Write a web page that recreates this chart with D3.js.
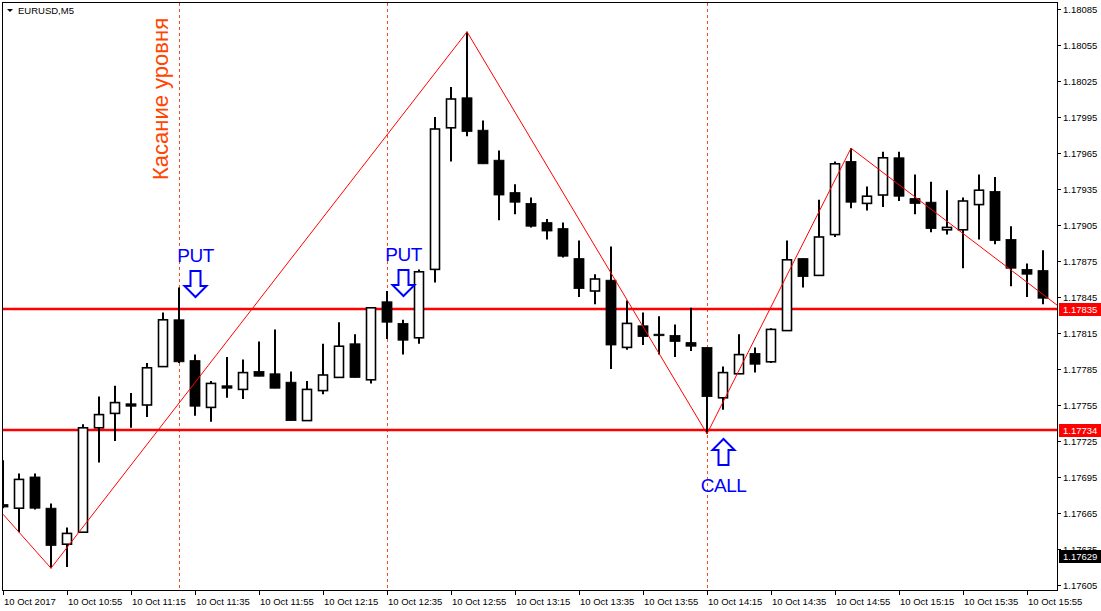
<!DOCTYPE html>
<html>
<head>
<meta charset="utf-8">
<script src="https://cdn.jsdelivr.net/npm/d3@7"></script>
<style>
body{margin:0;background:#fff}
svg{display:block;font-family:"Liberation Sans",Arial,sans-serif}
</style>
</head>
<body>
<div id="app"></div>
<script>
// EURUSD M5, 10 Oct 2017, bars from 10:35 onwards
var opens  = [1.17672,1.17669,1.17695,1.17669,1.17639,1.17649,1.17736,1.17748,1.17756,1.17755,1.17787,1.17826,1.17792,1.17753,1.17771,1.17768,1.17783,1.17781,1.17774,1.17742,1.17767,1.17778,1.17806,1.17776,1.17841,1.17823,1.17811,1.17868,1.17986,1.18011,1.17984,1.17959,1.17932,1.17923,1.17907,1.17902,1.17877,1.17850,1.17859,1.17803,1.17821,1.17814,1.17813,1.17807,1.17803,1.17761,1.17781,1.17798,1.17791,1.17817,1.17877,1.17863,1.17897,1.17958,1.17923,1.17930,1.17961,1.17927,1.17924,1.17901,1.17901,1.17922,1.17933,1.17893,1.17868,1.17867]
var highs  = [1.17709,1.17698,1.17698,1.17673,1.17653,1.17739,1.17762,1.17771,1.17765,1.17790,1.17832,1.17853,1.17797,1.17775,1.17795,1.17793,1.17808,1.17818,1.17783,1.17775,1.17806,1.17824,1.17814,1.17836,1.17850,1.17826,1.17868,1.17995,1.18020,1.18066,1.17992,1.17967,1.17939,1.17928,1.17910,1.17907,1.17892,1.17864,1.17887,1.17842,1.17832,1.17829,1.17822,1.17836,1.17803,1.17787,1.17814,1.17803,1.17819,1.17892,1.17877,1.17926,1.17958,1.17969,1.17937,1.17966,1.17966,1.17947,1.17941,1.17934,1.17928,1.17947,1.17945,1.17904,1.17873,1.17884]
var lows   = [1.17669,1.17649,1.17668,1.17619,1.17620,1.17649,1.17707,1.17725,1.17736,1.17745,1.17787,1.17790,1.17746,1.17741,1.17761,1.17760,1.17779,1.17769,1.17742,1.17742,1.17764,1.17778,1.17778,1.17773,1.17810,1.17797,1.17806,1.17857,1.17958,1.17979,1.17956,1.17909,1.17914,1.17903,1.17893,1.17878,1.17845,1.17839,1.17785,1.17801,1.17805,1.17797,1.17795,1.17800,1.17731,1.17751,1.17781,1.17782,1.17790,1.17817,1.17853,1.17863,1.17895,1.17919,1.17917,1.17920,1.17925,1.17914,1.17899,1.17897,1.17869,1.17893,1.17889,1.17854,1.17845,1.17839]
var closes = [1.17670,1.17693,1.17669,1.17638,1.17648,1.17736,1.17747,1.17757,1.17754,1.17786,1.17826,1.17791,1.17754,1.17773,1.17769,1.17782,1.17779,1.17769,1.17742,1.17768,1.17780,1.17804,1.17778,1.17836,1.17824,1.17809,1.17866,1.17985,1.18010,1.17983,1.17956,1.17930,1.17924,1.17904,1.17900,1.17879,1.17852,1.17860,1.17805,1.17823,1.17812,1.17813,1.17808,1.17804,1.17762,1.17782,1.17797,1.17789,1.17818,1.17876,1.17862,1.17895,1.17956,1.17924,1.17929,1.17961,1.17929,1.17923,1.17902,1.17903,1.17925,1.17934,1.17892,1.17869,1.17864,1.17844]

var priceTicks = ["1.18085","1.18055","1.18025","1.17995","1.17965","1.17935","1.17905","1.17875","1.17845","1.17815","1.17785","1.17755","1.17725","1.17695","1.17665","1.17635","1.17605"]
var timeLabels = ["10 Oct 2017","10 Oct 10:55","10 Oct 11:15","10 Oct 11:35","10 Oct 11:55","10 Oct 12:15","10 Oct 12:35","10 Oct 12:55","10 Oct 13:15","10 Oct 13:35","10 Oct 13:55","10 Oct 14:15","10 Oct 14:35","10 Oct 14:55","10 Oct 15:15","10 Oct 15:35","10 Oct 15:55"]
var timeLabelBars = [0,4,8,12,16,20,24,28,32,36,40,44,48,52,56,60,64]

var levels = [1.17835, 1.17734]
var lastPrice = 1.17629
var touchBars = [11, 24, 44]
var zigzagBars   = [0, 3, 29, 44, 53, 66]
var zigzagPrices = [1.17664, 1.17619, 1.18066, 1.17731, 1.17969, 1.17837]
var signalLabels = ["PUT", "PUT", "CALL"]
var signalBars   = [12, 25, 45]
var signalPrices = [1.17845, 1.17846, 1.17727]
var signalDirs   = ["down", "down", "up"]

var W = 1101, H = 611
// careful: "top" is window.top, so use other names
var pL = 3, pR = 1057, pT = 3, pB = 590

var svg = d3.select("#app").append("svg").attr("width", W).attr("height", H)

var x = d3.scaleLinear().domain([0, 65]).range([3, 1043])
var y = d3.scaleLinear().domain([1.18085, 1.17605]).range([9, 585])

svg.append("defs").append("clipPath").attr("id", "plotclip")
  .append("rect").attr("x", pL).attr("y", pT).attr("width", pR - pL).attr("height", pB - pT)

var plot = svg.append("g").attr("clip-path", "url(#plotclip)")

// vertical dashed "touch" lines
plot.selectAll(".touch").data(touchBars).enter().append("line")
  .attr("x1", d => Math.round(x(d)) + 0.5).attr("x2", d => Math.round(x(d)) + 0.5)
  .attr("y1", pT).attr("y2", pB)
  .attr("stroke", "#f0501e").attr("stroke-width", 1).attr("stroke-dasharray", "3,3")

// level lines
plot.selectAll(".level").data(levels).enter().append("line")
  .attr("x1", pL).attr("x2", pR)
  .attr("y1", d => Math.round(y(d))).attr("y2", d => Math.round(y(d)))
  .attr("stroke", "#ff0000").attr("stroke-width", 2.5)

// candles
var bars = d3.range(opens.length)
var candle = plot.selectAll(".candle").data(bars).enter().append("g")
candle.append("line")
  .attr("x1", i => Math.round(x(i))).attr("x2", i => Math.round(x(i)))
  .attr("y1", i => y(highs[i])).attr("y2", i => y(lows[i]))
  .attr("stroke", "#000").attr("stroke-width", 2)
candle.append("rect")
  .attr("x", i => Math.round(x(i)) - (closes[i] >= opens[i] ? 4.5 : 5))
  .attr("width", i => closes[i] >= opens[i] ? 9 : 10)
  .attr("y", i => y(Math.max(opens[i], closes[i])))
  .attr("height", i => Math.max(1.5, Math.abs(y(opens[i]) - y(closes[i]))))
  .attr("fill", i => closes[i] >= opens[i] ? "#fff" : "#000")
  .attr("stroke", "#000").attr("stroke-width", i => closes[i] >= opens[i] ? 1.6 : 0.8)

// zigzag
var zz = d3.line().x(d => x(d[0])).y(d => y(d[1]))
plot.append("path").datum(d3.zip(zigzagBars, zigzagPrices))
  .attr("d", zz).attr("fill", "none").attr("stroke", "#ff0000").attr("stroke-width", 1)

// signal arrows
function arrowPath(cx, tip, dir) {
  var s = dir == "down" ? -1 : 1
  var pts = [[cx - 5, tip + s * 26], [cx + 5, tip + s * 26], [cx + 5, tip + s * 11], [cx + 11, tip + s * 11],
             [cx, tip], [cx - 11, tip + s * 11], [cx - 5, tip + s * 11]]
  return "M" + pts.map(p => p.join(",")).join("L") + "Z"
}
signalLabels.forEach(function (lab, k) {
  var cx = Math.round(x(signalBars[k])) + 0.5
  var tip = Math.round(y(signalPrices[k]))
  plot.append("path").attr("d", arrowPath(cx, tip, signalDirs[k]))
    .attr("fill", "#fff").attr("stroke", "#0000ff").attr("stroke-width", 2)
  plot.append("text").text(lab)
    .attr("x", cx).attr("y", signalDirs[k] == "down" ? tip - 35 : tip + 53)
    .attr("text-anchor", "middle").attr("font-size", 19).attr("letter-spacing", -0.5)
    .attr("fill", "#0000ff")
})

// rotated note
plot.append("text").text("Касание уровня")
  .attr("transform", "translate(168,180) rotate(-90)")
  .attr("font-size", 22).attr("fill", "#ff4500")

// title
svg.append("path").attr("d", "M7,9L13,9L10,12Z").attr("fill", "#000")
svg.append("text").text("EURUSD,M5").attr("x", 18).attr("y", 14).attr("font-size", 9.5).attr("fill", "#000")

// frame
svg.append("rect").attr("x", pL - 0.5).attr("y", pT - 0.5)
  .attr("width", pR - pL + 1).attr("height", pB - pT + 1)
  .attr("fill", "none").attr("stroke", "#000").attr("stroke-width", 1)

// price axis
var pa = svg.append("g")
pa.selectAll(".pt").data(priceTicks).enter().append("line")
  .attr("x1", pR).attr("x2", pR + 4)
  .attr("y1", d => Math.round(y(+d)) + 0.5).attr("y2", d => Math.round(y(+d)) + 0.5)
  .attr("stroke", "#000")
pa.selectAll(".pl").data(priceTicks).enter().append("text").text(d => d)
  .attr("x", 1063).attr("y", d => y(+d) + 3.5).attr("font-size", 9.5).attr("fill", "#000")

// level and last price tags
function tag(price, bg) {
  var cy = Math.round(y(price))
  pa.append("rect").attr("x", 1059).attr("y", cy - 6).attr("width", 42).attr("height", 13).attr("fill", bg)
  pa.append("text").text(price.toFixed(5)).attr("x", 1063).attr("y", cy + 4)
    .attr("font-size", 9.5).attr("fill", "#fff")
}
levels.forEach(l => tag(l, "#ff0000"))
tag(lastPrice, "#000")

// time axis
var ta = svg.append("g")
ta.selectAll(".tt").data(timeLabelBars).enter().append("line")
  .attr("x1", d => Math.round(x(d)) + 0.5).attr("x2", d => Math.round(x(d)) + 0.5)
  .attr("y1", pB).attr("y2", pB + 5).attr("stroke", "#000")
ta.selectAll(".tl").data(timeLabelBars).enter().append("text")
  .text((d, i) => timeLabels[i])
  .attr("x", d => Math.round(x(d)) + 1).attr("y", 605).attr("font-size", 9.5).attr("fill", "#000")
</script>
</body>
</html>
